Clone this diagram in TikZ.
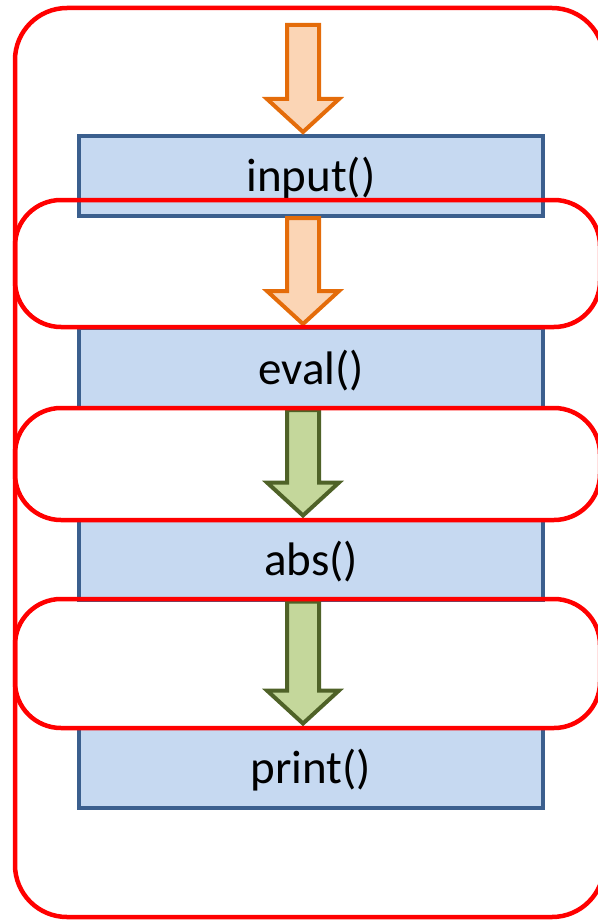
\documentclass[tikz,border=0pt]{standalone}
\usepackage{fontspec}
\setmainfont{Carlito}
\usetikzlibrary{calc}
\definecolor{boxline}{HTML}{3B5F8E}
\definecolor{boxfill}{HTML}{C6D9F1}
\definecolor{orangeline}{HTML}{E46C0A}
\definecolor{orangefill}{HTML}{FBD5B5}
\definecolor{greenline}{HTML}{4F6228}
\definecolor{greenfill}{HTML}{C4D79B}
\begin{document}
\begin{tikzpicture}[x=1pt,y=-1pt,
  outerframe/.style={draw=red, line width=4.5pt, rounded corners=52pt},
  loopframe/.style={draw=red, line width=4.5pt, rounded corners=46pt},
  fnbox/.style={draw=boxline, fill=boxfill, line width=4pt,
    minimum width=464pt, minimum height=80pt, inner sep=0pt,
    text height=40pt, text depth=8pt, font=\fontsize{47}{47}\selectfont},
  orangearrow/.style={draw=orangeline, fill=orangefill, line width=4pt, line join=miter},
  greenarrow/.style={draw=greenline, fill=greenfill, line width=4pt, line join=miter}]
  % block arrow: style, start coordinate, tip coordinate
  \newcommand{\blockarrow}[3]{%
    \path[#1] ($(#2)+(-16,0)$) -- ($(#3)+(-16,-33)$) -- ($(#3)+(-36,-33)$)
      -- (#3) -- ($(#3)+(36,-33)$) -- ($(#3)+(16,-33)$) -- ($(#2)+(16,0)$) -- cycle;}
  \useasboundingbox (0,0) rectangle (597,920);

  % enclosing frame
  \draw[outerframe] (15,8) rectangle (604,917);

  % function boxes
  \node[fnbox] (input) at (311,176) {input()};
  \node[fnbox] (eval)  at (311,368) {eval()};
  \node[fnbox] (abs)   at (311,559.5) {abs()};
  \node[fnbox] (print) at (311,767.5) {print()};

  % data flow arrows
  \coordinate (start) at (303,25);
  \coordinate (t1) at ($(input.north)+(-8,-2)$);
  \coordinate (s2) at ($(input.south)+(-8,0)$);
  \coordinate (t2) at ($(eval.north)+(-8,-2)$);
  \coordinate (s3) at ($(eval.south)+(-8,0)$);
  \coordinate (t3) at ($(abs.north)+(-8,-2)$);
  \coordinate (s4) at ($(abs.south)+(-8,0)$);
  \coordinate (t4) at ($(print.north)+(-8,-2)$);
  \blockarrow{orangearrow}{start}{t1}
  \blockarrow{orangearrow}{s2}{t2}
  \blockarrow{greenarrow}{s3}{t3}
  \blockarrow{greenarrow}{s4}{t4}

  % frames around each hand-over
  \draw[loopframe] (15,200) rectangle (600,327);
  \draw[loopframe] (15,408) rectangle (600,520);
  \draw[loopframe] (15,599) rectangle (600,728);
\end{tikzpicture}
\end{document}
